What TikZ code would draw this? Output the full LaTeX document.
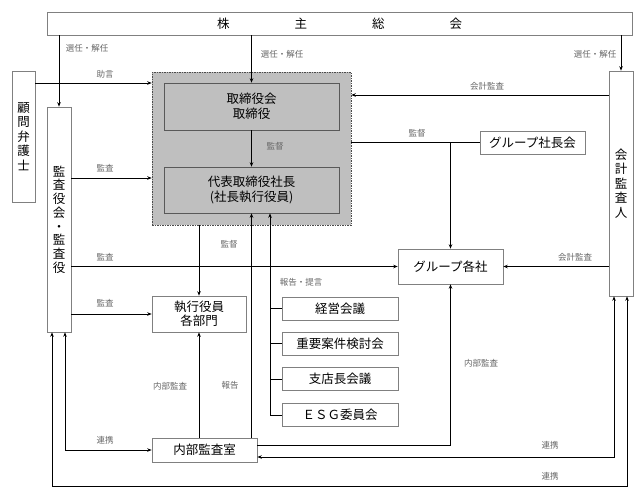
\documentclass[tikz,border=0pt]{standalone}
\usepackage{fontspec}
\setmainfont{Noto Sans CJK JP}
\usetikzlibrary{arrows.meta}

\begin{document}
\begin{tikzpicture}[x=1pt, y=-1pt, line width=0.9pt, >={Stealth[length=4.5pt,width=3.5pt]},
		box/.style={draw=black!50, line width=0.6pt, fill=white, inner sep=0pt, align=center, font=\fontsize{12.5}{14.5}\selectfont},
		inbox/.style={box, draw=black!65, fill=black!25},
		lbl/.style={inner sep=1pt, text=black!60, font=\fontsize{8.5}{10}\selectfont}]
			\useasboundingbox (0,0) rectangle (644,498);
			
			%boxes
			\node[box, minimum width=585pt, minimum height=23pt] (sokai) at (339.5,23.5) {株\hspace{65pt}主\hspace{65pt}総\hspace{65pt}会};
			\node[box, minimum width=23pt, minimum height=131pt] (komon) at (23.5,136.5) {顧\\問\\弁\\護\\士};
			\node[box, minimum width=24pt, minimum height=225pt, font=\fontsize{12.5}{13.7}\selectfont] (kansa) at (59,219.5) {監\\査\\役\\会\\・\\監\\査\\役};
			\node[box, minimum width=24pt, minimum height=225pt] (kaikei) at (621,183.5) {会\\計\\監\\査\\人};
			
			\node[draw=black!70, line width=0.5pt, dash pattern=on 1.5pt off 1pt, fill=black!25, minimum width=199pt, minimum height=153pt] (board) at (251.5,148.5) {};
			\node[inbox, minimum width=175pt, minimum height=47pt] (torishimari) at (251.5,106.5) {取締役会\\取締役};
			\node[inbox, minimum width=175pt, minimum height=46pt] (daihyo) at (251.5,190) {代表取締役社長\\(社長執行役員)};
			
			\node[box, minimum width=94pt, minimum height=36pt] (shiko) at (199,314) {執行役員\\各部門};
			\node[box, minimum width=116pt, minimum height=23pt] (keiei) at (340,308.5) {経営会議};
			\node[box, minimum width=116pt, minimum height=23pt] (juyo) at (340,343.5) {重要案件検討会};
			\node[box, minimum width=116pt, minimum height=23pt] (shiten) at (340,379) {支店長会議};
			\node[box, minimum width=116pt, minimum height=23pt] (esg) at (340,415) {ＥＳＧ委員会};
			\node[box, minimum width=105pt, minimum height=24pt] (naibu) at (204.5,450) {内部監査室};
			\node[box, minimum width=105pt, minimum height=23pt] (gshacho) at (532.5,142.5) {グループ社長会};
			\node[box, minimum width=105pt, minimum height=35pt] (gkaku) at (450.5,266.5) {グループ各社};
			
			%rows and columns of the connectors
			\coordinate (r1) at (0,83);
			\coordinate (r2) at (0,95);
			\coordinate (r3) at (0,178);
			\coordinate (r4) at (0,445);
			\coordinate (r5) at (0,457);
			\coordinate (r6) at (0,486);
			\coordinate (c1) at (52,0);
			\coordinate (c2) at (65,0);
			\coordinate (c3) at (270,0);
			\coordinate (c4) at (614,0);
			\coordinate (c5) at (627,0);
			
			%connectors
			\draw[->] (sokai.south -| kansa.north) -- (kansa.north);
			\draw[->] (sokai.south -| torishimari.north) -- (torishimari.north);
			\draw[->] (sokai.south -| kaikei.north) -- (kaikei.north);
			\draw[->] (komon.east |- r1) -- (board.west |- r1);
			\draw[->] (kaikei.west |- r2) -- (board.east |- r2);
			\draw[->] (torishimari) -- (daihyo);
			\draw[->] (kansa.east |- r3) -- (board.west |- r3);
			\draw[->] (kansa.east |- gkaku.west) -- (gkaku.west);
			\draw[->] (kansa.east |- shiko.west) -- (shiko.west);
			\draw[->] (board.south -| shiko.north) -- (shiko.north);
			\draw[->] (naibu.north -| shiko.south) -- (shiko.south);
			\draw[->] (naibu.north -| daihyo.south) -- (daihyo.south);
			\draw[->] (c3 |- esg.west) -- (c3 |- daihyo.south);
			\foreach \m in {keiei, juyo, shiten, esg}{
				\draw (c3 |- \m.west) -- (\m.west);
			}
			\draw (board.east |- gshacho.west) -- (gshacho.west);
			\draw[->] (gkaku.north |- gshacho.west) -- (gkaku.north);
			\draw[->] (kaikei.west |- gkaku.east) -- (gkaku.east);
			\draw[->] (naibu.east |- r4) -| (gkaku.south);
			\draw[<->] (naibu.east |- r5) -| (c4 |- kaikei.south);
			\draw[<->] (c2 |- kansa.south) |- (naibu.west);
			\draw[<->] (c1 |- kansa.south) -- (c1 |- r6) -- (c5 |- r6) -- (c5 |- kaikei.south);
			
			%labels
			\node[lbl] (t1) at (87,48) {選任・解任};
			\node[lbl] (t2) at (282,54) {選任・解任};
			\node[lbl] (t3) at (595,54) {選任・解任};
			\node[lbl] (t4) at (105,74) {助言};
			\node[lbl] (t5) at (487,86) {会計監査};
			\node[lbl] (t6) at (275,146) {監督};
			\node[lbl] (t7) at (105,168) {監査};
			\node[lbl] (t8) at (417,133) {監督};
			\node[lbl] (t9) at (229,244) {監督};
			\node[lbl] (t10) at (105,257) {監査};
			\node[lbl] (t11) at (575,257) {会計監査};
			\node[lbl] (t12) at (301,282) {報告・提言};
			\node[lbl] (t13) at (105,303) {監査};
			\node[lbl] (t14) at (481,363) {内部監査};
			\node[lbl] (t15) at (170,386) {内部監査};
			\node[lbl] (t16) at (230,385) {報告};
			\node[lbl] (t17) at (105,440) {連携};
			\node[lbl] (t18) at (550,445) {連携};
			\node[lbl] (t19) at (550,476) {連携};
		\end{tikzpicture}
\end{document}
